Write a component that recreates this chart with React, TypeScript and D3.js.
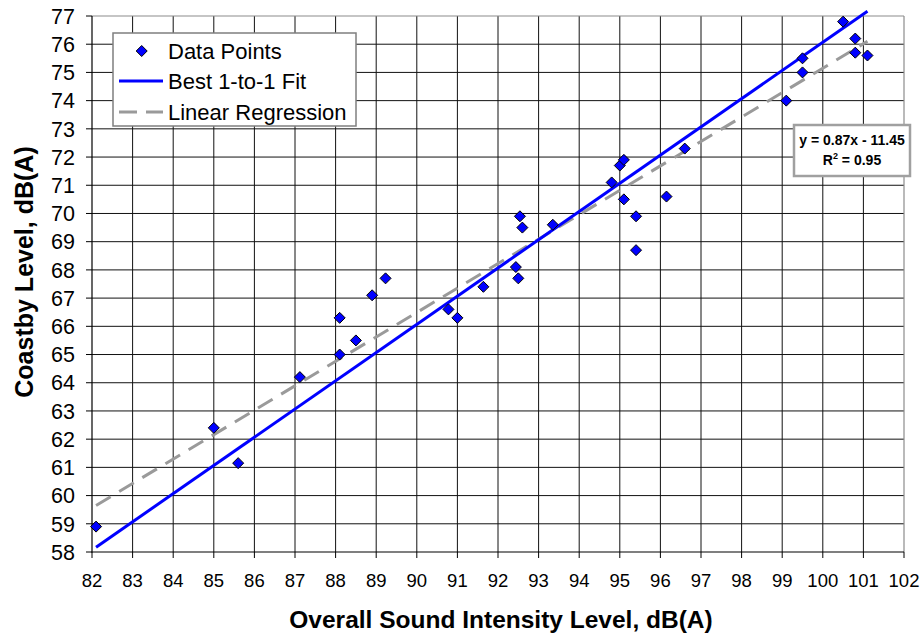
import React from "react";
import * as d3 from "d3";

// Measured pairs: overall sound intensity level vs coastby level, dB(A)
const intensity = [
  82.1, 85.0, 85.6, 87.12, 88.1, 88.1, 88.5, 88.9, 89.23, 90.78, 91.0, 91.64,
  92.44, 92.5, 92.54, 92.6, 93.35, 94.8, 95.0, 95.1, 95.1, 95.4, 95.4, 96.15,
  96.6, 99.1, 99.5, 99.5, 100.5, 100.8, 100.8, 101.1,
];
const coastby = [
  58.9, 62.4, 61.15, 64.2, 66.3, 65.0, 65.5, 67.1, 67.7, 66.6, 66.3, 67.4,
  68.1, 67.7, 69.9, 69.5, 69.6, 71.1, 71.7, 71.9, 70.5, 69.9, 68.7, 70.6,
  72.3, 74.0, 75.0, 75.5, 76.8, 76.2, 75.7, 75.6,
];

// Fitted lines
const oneToOneOffset = -23.93; // y = x + offset
const regSlope = 0.866;
const regIntercept = -11.45;
const fitRange = [82.1, 101.1];

const xTicks = d3.range(82, 103, 1);
const yTicks = d3.range(58, 78, 1);

const legendLabels = ["Data Points", "Best 1-to-1 Fit", "Linear Regression"];
const equationText = "y = 0.87x - 11.45";
const r2Value = "0.95";

const FONT = "'Liberation Sans', Arial, Helvetica, sans-serif";
const BLUE = "#0000ff";
const DASH_GRAY = "#9a9a9a";

function diamond(cx: number, cy: number, r: number) {
  return `M${cx},${cy - r}L${cx + r},${cy}L${cx},${cy + r}L${cx - r},${cy}Z`;
}

export default function App() {
  const width = 922;
  const height = 634;
  const left = 92, right = 904, top = 16, bottom = 552;

  const x = d3.scaleLinear().domain([82, 102]).range([left, right]);
  const y = d3.scaleLinear().domain([58, 77]).range([bottom, top]);

  const line = d3
    .line<[number, number]>()
    .x((d) => x(d[0]))
    .y((d) => y(d[1]));

  const oneToOne: [number, number][] = fitRange.map((v) => [v, v + oneToOneOffset]);
  const regression: [number, number][] = fitRange.map((v) => [v, regSlope * v + regIntercept]);

  const legendX = 113, legendY = 33, legendW = 243, legendH = 93;
  const rowY = [51, 81, 112];

  return (
    <svg
      width={width}
      height={height}
      style={{ position: "absolute", left: 0, top: 0, background: "#fff" }}
      fontFamily={FONT}
    >
      <rect x={0} y={0} width={width} height={height} fill="#fff" />

      {/* gridlines */}
      {xTicks.slice(1, -1).map((t) => (
        <line key={"gx" + t} x1={x(t)} x2={x(t)} y1={top} y2={bottom} stroke="#111" strokeWidth={1} />
      ))}
      {yTicks.slice(1, -1).map((t) => (
        <line key={"gy" + t} x1={left} x2={right} y1={y(t)} y2={y(t)} stroke="#111" strokeWidth={1} />
      ))}

      {/* plot frame: grey top/right, black axes */}
      <line x1={left} x2={right} y1={top} y2={top} stroke="#8c8c8c" strokeWidth={1.2} />
      <line x1={right} x2={right} y1={top} y2={bottom} stroke="#8c8c8c" strokeWidth={1.2} />
      <line x1={left} x2={left} y1={top} y2={bottom + 0.5} stroke="#000" strokeWidth={1.2} />
      <line x1={left - 0.5} x2={right} y1={bottom} y2={bottom} stroke="#000" strokeWidth={1.2} />

      {/* axis ticks and labels */}
      {xTicks.map((t) => (
        <g key={"xt" + t}>
          <line x1={x(t)} x2={x(t)} y1={bottom} y2={bottom + 6} stroke="#000" strokeWidth={1} />
          <text x={x(t)} y={587} textAnchor="middle" fontSize={18.5} fill="#000">
            {t}
          </text>
        </g>
      ))}
      {yTicks.map((t) => (
        <g key={"yt" + t}>
          <line x1={left - 6} x2={left} y1={y(t)} y2={y(t)} stroke="#000" strokeWidth={1} />
          <text x={75} y={y(t)} dy="0.36em" textAnchor="end" fontSize={21.5} fill="#000">
            {t}
          </text>
        </g>
      ))}

      {/* axis titles */}
      <text
        x={(left + right) / 2 + 3}
        y={628}
        textAnchor="middle"
        fontSize={24.5}
        fontWeight="bold"
        fill="#000"
      >
        Overall Sound Intensity Level, dB(A)
      </text>
      <text
        transform={`translate(33,272) rotate(-90)`}
        textAnchor="middle"
        fontSize={25}
        fontWeight="bold"
        fill="#000"
      >
        Coastby Level, dB(A)
      </text>

      {/* fitted lines */}
      <path d={line(regression) || ""} fill="none" stroke={DASH_GRAY} strokeWidth={3} strokeDasharray="17 10" />
      <path d={line(oneToOne) || ""} fill="none" stroke={BLUE} strokeWidth={3} />

      {/* data points */}
      {intensity.map((v, i) => (
        <path
          key={"p" + i}
          d={diamond(x(v), y(coastby[i]), 5.5)}
          fill={BLUE}
          stroke="#000"
          strokeWidth={1}
        />
      ))}

      {/* legend */}
      <rect x={legendX} y={legendY} width={legendW} height={legendH} fill="#fff" stroke="#7f7f7f" strokeWidth={1.5} />
      <path d={diamond(141.7, rowY[0], 5.5)} fill={BLUE} stroke="#000" strokeWidth={1} />
      <line x1={119} x2={163} y1={rowY[1]} y2={rowY[1]} stroke={BLUE} strokeWidth={3} />
      <line x1={119} x2={163} y1={rowY[2]} y2={rowY[2]} stroke={DASH_GRAY} strokeWidth={3} strokeDasharray="18 9" />
      {legendLabels.map((lab, i) => (
        <text key={lab} x={168} y={rowY[i]} dy="0.36em" fontSize={22} fill="#000">
          {lab}
        </text>
      ))}

      {/* regression equation box */}
      <rect x={794} y={125} width={116} height={51} fill="#fff" stroke="#a0a0a0" strokeWidth={2.5} />
      <text x={852} y={140} dy="0.36em" textAnchor="middle" fontSize={14} fontWeight="bold" fill="#000">
        {equationText}
      </text>
      <text x={852} y={160} dy="0.36em" textAnchor="middle" fontSize={14} fontWeight="bold" fill="#000">
        R<tspan fontSize={9} dy="-6">2</tspan>
        <tspan dy="6"> = {r2Value}</tspan>
      </text>
    </svg>
  );
}
